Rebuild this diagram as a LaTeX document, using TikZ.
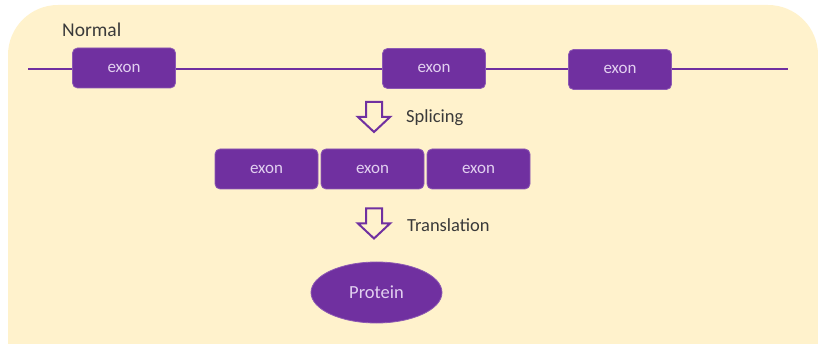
\documentclass[tikz,border=0pt]{standalone}
\usepackage{fontspec}
\setmainfont{Carlito}
\usetikzlibrary{shapes.geometric}
\definecolor{bgcream}{HTML}{FFF2CC}
\definecolor{purp}{HTML}{7030A0}
\definecolor{lav}{HTML}{E2D0F0}
\definecolor{lbl}{HTML}{3A3A3A}
\tikzset{
  exonbox/.style={draw=purp!80!white, line width=0.8pt, fill=purp, rounded corners=5pt,
    minimum width=103pt, minimum height=40pt, inner sep=0pt,
    text=lav, font=\fontsize{17}{17}\selectfont},
  lbltext/.style={text=lbl, anchor=west, inner sep=0pt, font=\fontsize{18.5}{18.5}\selectfont},
  strand/.style={draw=purp, line width=1.6pt},
  blockarrow/.style={draw=purp, line width=2pt, fill=bgcream, line join=miter},
  pics/downarr/.style={code={
    \draw[blockarrow] (-8,-15) -- (8,-15) -- (8,0) -- (16,0) -- (0,15) -- (-16,0) -- (-8,0) -- cycle;
  }}
}
\begin{document}
\begin{tikzpicture}[x=1pt,y=-1pt]
\useasboundingbox (0,0) rectangle (818,344);
\begin{scope}
\clip (0,0) rectangle (818,344);
\fill[bgcream, rounded corners=50pt] (8,5) rectangle (818,400);
\fill[bgcream] (8,100) rectangle (818,400);
\end{scope}

\node[lbltext, font=\fontsize{19.5}{19.5}\selectfont] (normal) at (62,30) {Normal};

\coordinate (sL) at (28,69);
\coordinate (sR) at (788,69);
\draw[strand] (sL) -- (sR);

\node[exonbox] (e1) at (124,68) {exon};
\node[exonbox] (e2) at (434,68.5) {exon};
\node[exonbox] (e3) at (620,69.5) {exon};

\pic at (374,117) {downarr};
\node[lbltext] (splice) at (406,118) {Splicing};

\node[exonbox] (m1) at (266.5,169) {exon};
\node[exonbox] (m2) at (372.5,169) {exon};
\node[exonbox] (m3) at (478.5,169) {exon};

\pic at (374,223.5) {downarr};
\node[lbltext] (transl) at (407,225) {Translation};

\node[ellipse, fill=purp, draw=purp!80!white, line width=0.8pt, minimum width=131pt, minimum height=61pt,
  inner sep=0pt, text=lav, font=\fontsize{18.5}{18.5}\selectfont] (prot) at (376.5,292.5) {Protein};
\end{tikzpicture}
\end{document}
